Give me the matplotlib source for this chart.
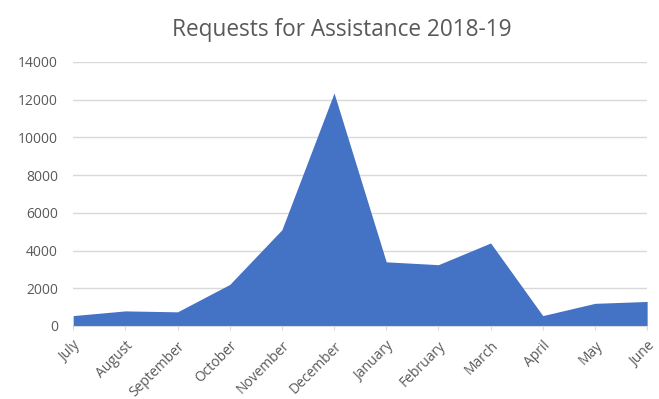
import matplotlib
matplotlib.use("Agg")
import matplotlib.pyplot as plt

months = ["July", "August", "September", "October", "November", "December",
          "January", "February", "March", "April", "May", "June"]
requests = [550, 800, 750, 2200, 5100, 12350, 3400, 3250, 4400, 550, 1200, 1300]
yticks = [0, 2000, 4000, 6000, 8000, 10000, 12000, 14000]

plt.rcParams['font.family'] = ['Open Sans', 'DejaVu Sans']

fig = plt.figure(figsize=(6.59, 3.99), dpi=100)
ax = fig.add_axes([0.111, 0.183, 0.871, 0.662])
x = list(range(len(months)))
ax.fill_between(x, requests, 0, color="#4472C4", linewidth=0, zorder=2)
ax.set_xlim(0, len(months) - 1)
ax.set_ylim(0, 14000)
ax.set_yticks(yticks)
ax.set_yticklabels([str(v) for v in yticks], fontsize=10, color="#595959")
ax.set_xticks(x)
ax.set_xticklabels(months, rotation=45, ha="right", rotation_mode="anchor",
                   fontsize=10, color="#595959")
ax.grid(axis="y", color="#D9D9D9", linewidth=1, zorder=0)
for s in ["top", "right", "left"]:
    ax.spines[s].set_visible(False)
ax.spines["bottom"].set_color("#D9D9D9")
ax.tick_params(axis="y", length=0, pad=11)
ax.tick_params(axis="x", length=3, color="#D9D9D9", pad=6)
fig.text(0.519, 0.925, "Requests for Assistance 2018-19", ha="center", va="center",
         fontsize=16.3, color="#595959")
fig.savefig("out.png", dpi=100)
